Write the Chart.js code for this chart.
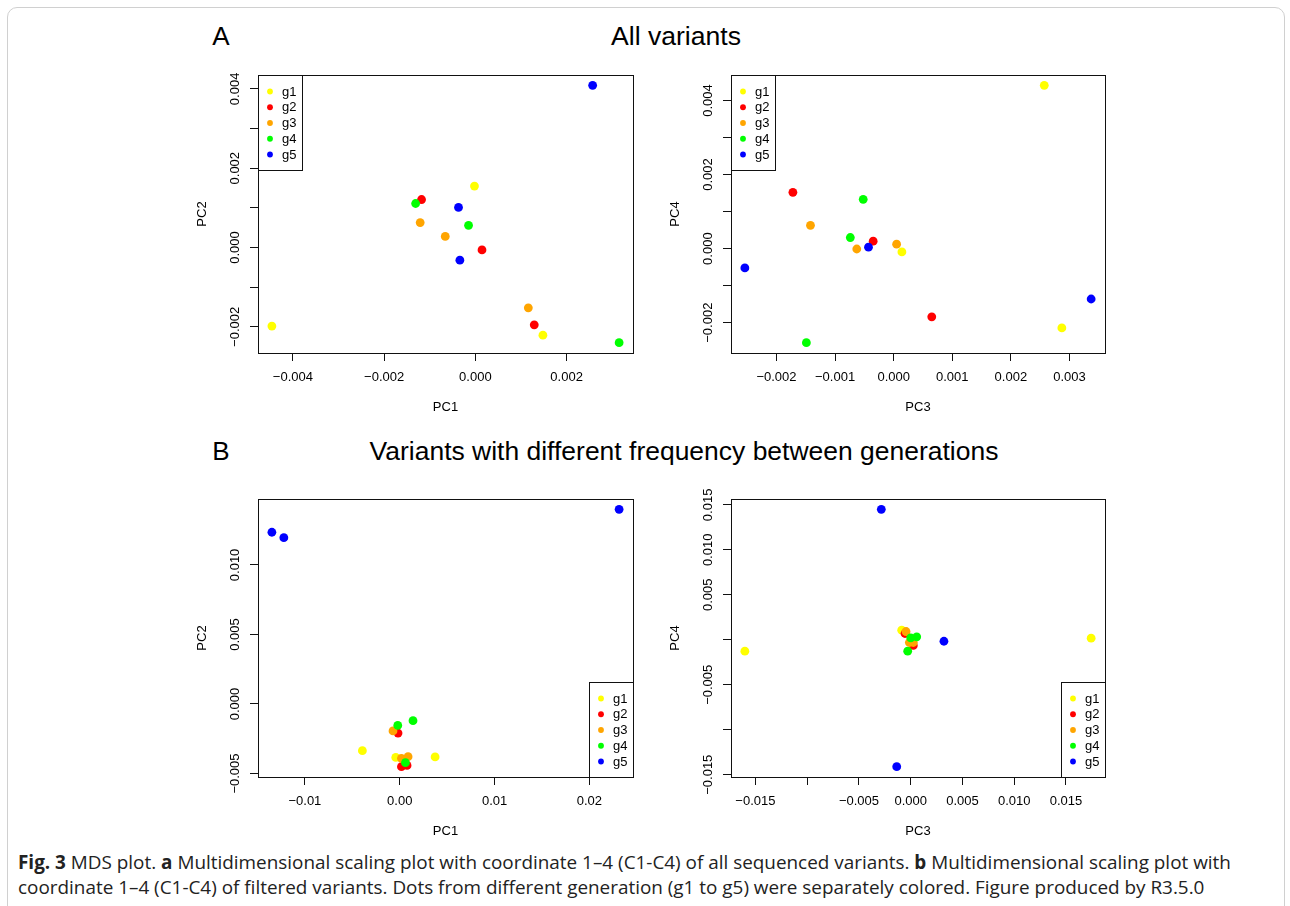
<!DOCTYPE html>
<html>
<head>
<meta charset="utf-8">
<script src="https://cdn.jsdelivr.net/npm/chart.js@4.4.1/dist/chart.umd.min.js"></script>
<style>
  body { margin:0; background:#fff; width:1290px; height:906px; overflow:hidden; position:relative; font-family:"Liberation Sans", Arial, sans-serif; }
  .frame { position:absolute; left:7px; top:7px; width:1276px; height:1000px; border:1px solid #d0d0d0; border-radius:10px; }
  .panel { position:absolute; }
  .lbl { position:absolute; white-space:nowrap; color:#000; line-height:1; transform:translate(-50%,-50%); }
  .cap { position:absolute; left:18px; white-space:nowrap; font-family:"Open Sans", sans-serif; color:#222; line-height:1; transform:translateY(-50%); font-size:17px; }
</style>
</head>
<body>
<div class="frame"></div>

<div class="lbl" style="left:221px;top:36px;font-size:26px">A</div>
<div class="lbl" id="titleA" style="left:676px;top:36px;font-size:26px">All variants</div>
<div class="lbl" style="left:221px;top:451px;font-size:26px">B</div>
<div class="lbl" id="titleB" style="left:684px;top:451px;font-size:26px">Variants with different frequency between generations</div>

<div class="cap" id="cap1" style="top:862px"><b>Fig. 3</b> MDS plot. <b>a</b> Multidimensional scaling plot with coordinate 1–4 (C1-C4) of all sequenced variants. <b>b</b> Multidimensional scaling plot with</div>
<div class="cap" id="cap2" style="top:887px">coordinate 1–4 (C1-C4) of filtered variants. Dots from different generation (g1 to g5) were separately colored. Figure produced by R3.5.0</div>

<script>
// groups and colours
var groups = ['g1', 'g2', 'g3', 'g4', 'g5'];
var groupColors = ['#ffff00', '#ff0000', '#ffa500', '#00ff00', '#0000ff'];

// A: all variants (3 samples per generation)
var allPC1 = [[-0.00446, -0.00002, 0.00148], [-0.00118, 0.000145, 0.00129], [-0.00121, -0.00066, 0.00116], [-0.00131, -0.00015, 0.00315], [-0.00037, -0.00034, 0.00257]];
var allPC2 = [[-0.00198, 0.00155, -0.00221], [0.00121, -0.00006, -0.00195], [0.00063, 0.00028, -0.00152], [0.00111, 0.00056, -0.0024], [0.00101, -0.00032, 0.00409]];
var allPC3 = [[0.00257, 0.00014, 0.00287], [-0.00172, -0.00035, 0.00065], [-0.00142, -0.00063, 0.00005], [-0.00052, -0.00074, -0.00149], [-0.00254, -0.00043, 0.00337]];
var allPC4 = [[0.00441, -0.00009, -0.00214], [0.00152, 0.0002, -0.00184], [0.00063, -0.00001, 0.00012], [0.00133, 0.0003, -0.00254], [-0.00052, 0.00004, -0.00136]];

// B: filtered variants
var filtPC1 = [[-0.00394, -0.00042, 0.00373], [-0.00018, 0.00018, 0.00077], [-0.00071, 0.00018, 0.00088], [-0.00021, 0.0014, 0.0006], [-0.01348, -0.01222, 0.02313]];
var filtPC2 = [[-0.00336, -0.00384, -0.00381], [-0.00209, -0.00451, -0.00442], [-0.00194, -0.00391, -0.00379], [-0.00154, -0.0012, -0.00422], [0.01235, 0.01196, 0.014]];
var filtPC3 = [[-0.01602, 0.01743, -0.00087], [-0.00055, 0.00025, 0.0001], [-0.00045, -0.00013, 0.00025], [0, 0.00058, -0.00029], [-0.00284, -0.00135, 0.00321]];
var filtPC4 = [[-0.00127, 0.00018, 0.00107], [0.0007, -0.00063, -0.0002], [0.00092, -0.0003, -0.0003], [0.00022, 0.00033, -0.00127], [0.01451, -0.01411, -0.00016]];

// ticks (empty label = tick without label, like R drops overlapping ones)
var ticksA1x = [-0.004, -0.002, 0, 0.002];
var labelsA1x = ['\u22120.004', '\u22120.002', '0.000', '0.002'];
var ticksA2x = [-0.002, -0.001, 0, 0.001, 0.002, 0.003];
var labelsA2x = ['\u22120.002', '\u22120.001', '0.000', '0.001', '0.002', '0.003'];
var ticksAy = [-0.002, -0.001, 0, 0.001, 0.002, 0.003, 0.004];
var labelsAy = ['\u22120.002', '', '0.000', '', '0.002', '', '0.004'];
var ticksB1x = [-0.01, 0, 0.01, 0.02];
var labelsB1x = ['\u22120.01', '0.00', '0.01', '0.02'];
var ticksB1y = [-0.005, 0, 0.005, 0.01];
var labelsB1y = ['\u22120.005', '0.000', '0.005', '0.010'];
var ticksB2 = [-0.015, -0.01, -0.005, 0, 0.005, 0.01, 0.015];
var labelsB2x = ['\u22120.015', '', '\u22120.005', '0.000', '0.005', '0.010', '0.015'];
var labelsB2y = ['\u22120.015', '', '\u22120.005', '', '0.005', '0.010', '0.015'];

var FONT = '"Liberation Sans", Arial, sans-serif';
Chart.defaults.font.family = FONT;
Chart.defaults.font.size = 13;
Chart.defaults.color = '#000';

// R default axis range: data range widened by 4% on each side
function rRange(groupsVals) {
    var all = [].concat.apply([], groupsVals);
    var lo = Math.min.apply(null, all), hi = Math.max.apply(null, all);
    var d = (hi - lo) * 0.04;
    return [lo - d, hi + d];
}

var pad = {l: 70, t: 10, r: 15, b: 70};

function rPlot(cfg) {
    var a = cfg.area; // plot box in page pixels: left, top, right, bottom
    var w = a[2] - a[0] + pad.l + pad.r;
    var h = a[3] - a[1] + pad.t + pad.b;
    var holder = document.createElement('div');
    holder.className = 'panel';
    holder.style.left = (a[0] - pad.l) + 'px';
    holder.style.top = (a[1] - pad.t) + 'px';
    var cv = document.createElement('canvas');
    cv.width = w; cv.height = h;
    cv.style.width = w + 'px'; cv.style.height = h + 'px';
    holder.appendChild(cv);
    document.body.appendChild(holder);

    var xr = rRange(cfg.xs), yr = rRange(cfg.ys);

    // box, rotated y labels and legend, drawn the way base R does
    var rDecor = {
        id: 'rDecor',
        afterDraw: function(chart) {
            var ctx = chart.ctx, ca = chart.chartArea, ys = chart.scales.y;
            ctx.save();
            ctx.strokeStyle = '#111';
            ctx.lineWidth = 1;
            ctx.strokeRect(Math.round(ca.left) + 0.5, Math.round(ca.top) + 0.5, Math.round(ca.right - ca.left), Math.round(ca.bottom - ca.top));

            ctx.fillStyle = '#000';
            ctx.font = '13px ' + FONT;
            ctx.textAlign = 'center';
            ctx.textBaseline = 'middle';
            cfg.yTicks.forEach(function(v, i) {
                if (!cfg.yLabels[i]) return;
                ctx.save();
                ctx.translate(ca.left - 23, ys.getPixelForValue(v));
                ctx.rotate(-Math.PI / 2);
                ctx.fillText(cfg.yLabels[i], 0, 0);
                ctx.restore();
            });

            // legend
            var lw = 44, lh = 95;
            var bx = cfg.legend == 'topleft' ? ca.left : ca.right - lw;
            var by = cfg.legend == 'topleft' ? ca.top : ca.bottom - lh;
            bx = Math.round(bx); by = Math.round(by);
            ctx.fillStyle = '#fff';
            ctx.fillRect(bx, by, lw, lh);
            ctx.strokeRect(bx + 0.5, by + 0.5, lw, lh);
            ctx.textAlign = 'left';
            groups.forEach(function(g, i) {
                var yy = by + 16.5 + i * 15.75;
                ctx.fillStyle = groupColors[i];
                ctx.beginPath();
                ctx.arc(bx + 12, yy, 2.9, 0, Math.PI * 2);
                ctx.fill();
                ctx.fillStyle = '#000';
                ctx.fillText(g, bx + 24, yy + 0.5);
            });
            ctx.restore();
        }
    };

    new Chart(cv, {
        type: 'scatter',
        data: {
            datasets: groups.map(function(g, i) {
                return {
                    label: g,
                    data: cfg.xs[i].map(function(x, j) { return {x: x, y: cfg.ys[i][j]}; }),
                    backgroundColor: groupColors[i],
                    borderColor: groupColors[i],
                    pointRadius: 4.4,
                    pointBorderWidth: 0,
                    order: groups.length - i
                };
            })
        },
        options: {
            responsive: false,
            animation: false,
            events: [],
            layout: {padding: {left: 0, top: pad.t, right: pad.r, bottom: 0}},
            plugins: {legend: {display: false}, tooltip: {enabled: false}},
            scales: {
                x: {
                    type: 'linear', min: xr[0], max: xr[1],
                    afterBuildTicks: function(s) { s.ticks = cfg.xTicks.map(function(v) { return {value: v}; }); },
                    afterFit: function(s) { s.height = pad.b; },
                    ticks: {
                        autoSkip: false, maxRotation: 0, minRotation: 0, padding: 9, color: '#000',
                        callback: function(v, i) { return cfg.xLabels[i]; }
                    },
                    grid: {drawOnChartArea: false, drawTicks: true, tickLength: 8, color: '#111'},
                    border: {display: true, color: '#111'},
                    title: {display: true, text: cfg.xTitle, color: '#000', padding: {top: 0, bottom: 7.5}}
                },
                y: {
                    type: 'linear', min: yr[0], max: yr[1],
                    afterBuildTicks: function(s) { s.ticks = cfg.yTicks.map(function(v) { return {value: v}; }); },
                    afterFit: function(s) { s.width = pad.l; },
                    ticks: {display: false},
                    grid: {drawOnChartArea: false, drawTicks: true, tickLength: 8, color: '#111'},
                    border: {display: true, color: '#111'},
                    title: {display: true, text: cfg.yTitle, color: '#000', padding: {top: 6.5, bottom: 0}}
                }
            }
        },
        plugins: [rDecor]
    });
}

rPlot({area: [258, 75, 633, 353], xs: allPC1, ys: allPC2, xTicks: ticksA1x, xLabels: labelsA1x, yTicks: ticksAy, yLabels: labelsAy, xTitle: 'PC1', yTitle: 'PC2', legend: 'topleft'});
rPlot({area: [731, 75, 1105, 353], xs: allPC3, ys: allPC4, xTicks: ticksA2x, xLabels: labelsA2x, yTicks: ticksAy, yLabels: labelsAy, xTitle: 'PC3', yTitle: 'PC4', legend: 'topleft'});
rPlot({area: [258, 499, 633, 777], xs: filtPC1, ys: filtPC2, xTicks: ticksB1x, xLabels: labelsB1x, yTicks: ticksB1y, yLabels: labelsB1y, xTitle: 'PC1', yTitle: 'PC2', legend: 'bottomright'});
rPlot({area: [731, 499, 1105, 777], xs: filtPC3, ys: filtPC4, xTicks: ticksB2, xLabels: labelsB2x, yTicks: ticksB2, yLabels: labelsB2y, xTitle: 'PC3', yTitle: 'PC4', legend: 'bottomright'});

// size headings and caption to the widths they take in the figure
function fitWidth(id, target) {
    var el = document.getElementById(id);
    var w = el.getBoundingClientRect().width;
    var fs = parseFloat(getComputedStyle(el).fontSize);
    el.style.fontSize = (fs * target / w) + 'px';
    return fs * target / w;
}
fitWidth('titleA', 130);
fitWidth('titleB', 629);
var capSize = fitWidth('cap1', 1214);
document.getElementById('cap2').style.fontSize = capSize + 'px';
</script>
</body>
</html>
